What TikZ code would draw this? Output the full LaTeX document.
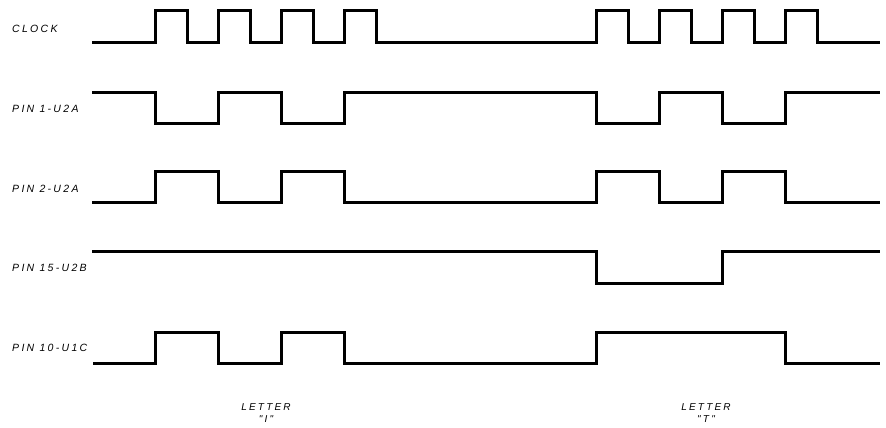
\documentclass[tikz,border=0pt]{standalone}
\usepackage{fontspec}
\setmainfont{Liberation Sans}
\newfontfamily\lblfont[LetterSpace=22]{Liberation Sans}
\begin{document}
\begin{tikzpicture}[x=1pt,y=-1pt,
  wave/.style={line width=3pt,line join=miter,line cap=butt},
  lbl/.style={anchor=west,inner sep=0pt,font=\lblfont\itshape\fontsize{10.5}{12}\selectfont},
  ltr/.style={align=center,inner sep=0pt,font=\lblfont\itshape\fontsize{10}{12}\selectfont}]
\useasboundingbox (0,0) rectangle (886,428);
% labels
\node[lbl] (lclk) at (12,29) {CLOCK};
\node[lbl] (lp1) at (12,109) {PIN 1-U2A};
\node[lbl] (lp2) at (12,189) {PIN 2-U2A};
\node[lbl] (lp15) at (12,268) {PIN 15-U2B};
\node[lbl] (lp10) at (12,348) {PIN 10-U1C};
\node[ltr] (li) at (266,413) {LETTER\\"I"};
\node[ltr] (lt) at (706,413) {LETTER\\"T"};
% CLOCK
\draw[wave] (92,43) -- (155,43) -- (155,11) -- (187,11) -- (187,43) -- (218,43) -- (218,11) -- (250,11) -- (250,43)
  -- (281,43) -- (281,11) -- (313,11) -- (313,43) -- (344,43) -- (344,11) -- (376,11) -- (376,43)
  -- (596,43) -- (596,11) -- (628,11) -- (628,43) -- (659,43) -- (659,11) -- (691,11) -- (691,43)
  -- (722,43) -- (722,11) -- (754,11) -- (754,43) -- (785,43) -- (785,11) -- (817,11) -- (817,43) -- (880,43);
% PIN 1
\draw[wave] (92,92) -- (155,92) -- (155,123) -- (218,123) -- (218,92) -- (281,92) -- (281,123) -- (344,123) -- (344,92)
  -- (596,92) -- (596,123) -- (659,123) -- (659,92) -- (722,92) -- (722,123) -- (785,123) -- (785,92) -- (880,92);
% PIN 2
\draw[wave] (92,202) -- (155,202) -- (155,171) -- (218,171) -- (218,202) -- (281,202) -- (281,171) -- (344,171) -- (344,202)
  -- (596,202) -- (596,171) -- (659,171) -- (659,202) -- (722,202) -- (722,171) -- (785,171) -- (785,202) -- (880,202);
% PIN 15
\draw[wave] (92,251) -- (596,251) -- (596,283) -- (722,283) -- (722,251) -- (880,251);
% PIN 10
\draw[wave] (93,363) -- (155,363) -- (155,332) -- (218,332) -- (218,363) -- (281,363) -- (281,332) -- (344,332) -- (344,363)
  -- (596,363) -- (596,332) -- (785,332) -- (785,363) -- (880,363);
\end{tikzpicture}
\end{document}
